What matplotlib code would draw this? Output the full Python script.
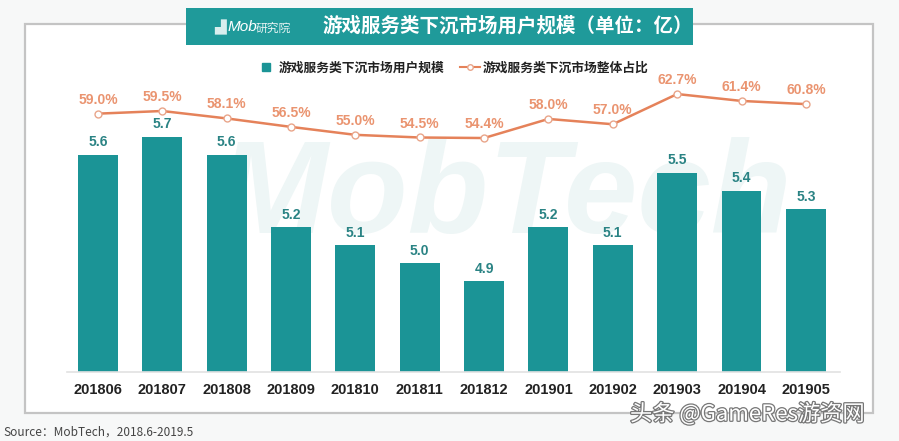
import matplotlib.pyplot as plt
from matplotlib.patches import Rectangle
from matplotlib.lines import Line2D
import matplotlib.patheffects as pe

plt.rcParams['font.family'] = ['Liberation Sans', 'Noto Sans CJK SC', 'DejaVu Sans']

# 数据
months = ["201806", "201807", "201808", "201809", "201810", "201811",
          "201812", "201901", "201902", "201903", "201904", "201905"]
users = [5.6, 5.7, 5.6, 5.2, 5.1, 5.0, 4.9, 5.2, 5.1, 5.5, 5.4, 5.3]
share = [59.0, 59.5, 58.1, 56.5, 55.0, 54.5, 54.4, 58.0, 57.0, 62.7, 61.4, 60.8]

bar_label = "游戏服务类下沉市场用户规模"
line_label = "游戏服务类下沉市场整体占比"
title = "游戏服务类下沉市场用户规模（单位：亿）"

teal = "#1b9496"
orange = "#e5825a"
W, H = 899, 441

fig = plt.figure(figsize=(W / 100, H / 100), dpi=100, facecolor="#f7f8f8")

def px(x, y):
    # 像素坐标 -> figure 坐标
    return x / W, 1 - y / H

# 白色面板 + 灰边框
fig.patches.append(Rectangle(px(25, 413), 848 / W, 389 / H, transform=fig.transFigure,
                             facecolor="white", edgecolor="#c4c4c4", linewidth=1.6, zorder=-3))
# 标题条
fig.patches.append(Rectangle(px(186, 45), 507 / W, 37 / H, transform=fig.transFigure,
                             facecolor="#1f9a9a", edgecolor="none", zorder=-2))
fig.text(*px(214, 27), "▟", color="#d8eeee", fontsize=11, va="center", ha="left",
         family=["DejaVu Sans"])
fig.text(*px(228, 27), "Mob", color="white", fontsize=11, style="italic", va="center", ha="left")
fig.text(*px(256, 28), "研究院", color="#e8f4f4", fontsize=8.5, style="italic", va="center",
         ha="left", family=["Noto Sans CJK SC"])
fig.text(*px(322, 26), title, color="white", fontsize=14, fontweight="bold", va="center",
         ha="left", family=["Noto Sans CJK SC"])

# 背景水印
fig.text(*px(505, 198), "MobTech", color="#eef6f6", fontsize=95, fontweight="bold",
         style="italic", ha="center", va="center", zorder=-1)

left, right, top, bottom = 67, 840, 80, 372
ax = fig.add_axes([left / W, 1 - bottom / H, (right - left) / W, (bottom - top) / H])
ax.set_zorder(1)
ax.patch.set_visible(False)
x = list(range(len(months)))
ax.bar(x, users, width=0.62, color=teal, zorder=2)
ax.set_xlim(-0.48, 11.53)
ax.set_ylim(4.4, 6.013)
for xi, v in zip(x, users):
    ax.annotate(f"{v:.1f}", (xi, v), xytext=(0, 4), textcoords="offset points",
                ha="center", va="bottom", fontsize=10, fontweight="bold", color="#2a8384")
ax.set_xticks(x)
ax.set_xticklabels(months, fontsize=10.5, fontweight="bold", color="#222222")
ax.tick_params(axis="x", length=0, pad=8)
ax.set_yticks([])
for s in ["top", "left", "right"]:
    ax.spines[s].set_visible(False)
ax.spines["bottom"].set_color("#e2e2e2")
ax.spines["bottom"].set_linewidth(1.2)

ax2 = ax.twinx()
ax2.set_zorder(2)
ax2.patch.set_visible(False)
ax2.plot(x, share, color=orange, linewidth=1.8, marker="o", markersize=5,
         markerfacecolor="white", markeredgecolor="#e9a58a", markeredgewidth=1, zorder=3)
ax2.set_ylim(10.25, 65.35)
ax2.set_yticks([])
for s in ax2.spines.values():
    s.set_visible(False)
for xi, v in zip(x, share):
    ax2.annotate(f"{v:.1f}%", (xi, v), xytext=(0, 5), textcoords="offset points",
                 ha="center", va="bottom", fontsize=10, fontweight="bold", color="#ea9470")

# 图例
handles = [Line2D([], [], marker="s", linestyle="none", color=teal, markersize=6),
           Line2D([], [], marker="o", color=orange, linewidth=1.5, markersize=4,
                  markerfacecolor="white", markeredgecolor="#e9a58a")]
leg = fig.legend(handles, [bar_label, line_label], ncol=2, frameon=False,
                 loc="center", bbox_to_anchor=px(452, 68),
                 handlelength=1.6, handletextpad=0.2, columnspacing=1.2,
                 prop={"family": ["Noto Sans CJK SC"], "weight": "bold", "size": 9.2})
for t in leg.get_texts():
    t.set_color("#222222")

# 来源与水印
fig.text(*px(3, 432), "Source：MobTech，2018.6-2019.5", fontsize=8.5, color="#444444",
         va="center", ha="left", family=["Noto Sans CJK SC", "DejaVu Sans"])
fig.text(*px(630, 414), "头条 @GameRes游资网", fontsize=16, color="white",
         va="center", ha="left", family=["Noto Sans CJK SC", "DejaVu Sans"],
         path_effects=[pe.withStroke(linewidth=1.8, foreground="#777777")], zorder=5)

fig.savefig("out.png", dpi=100, facecolor=fig.get_facecolor())
